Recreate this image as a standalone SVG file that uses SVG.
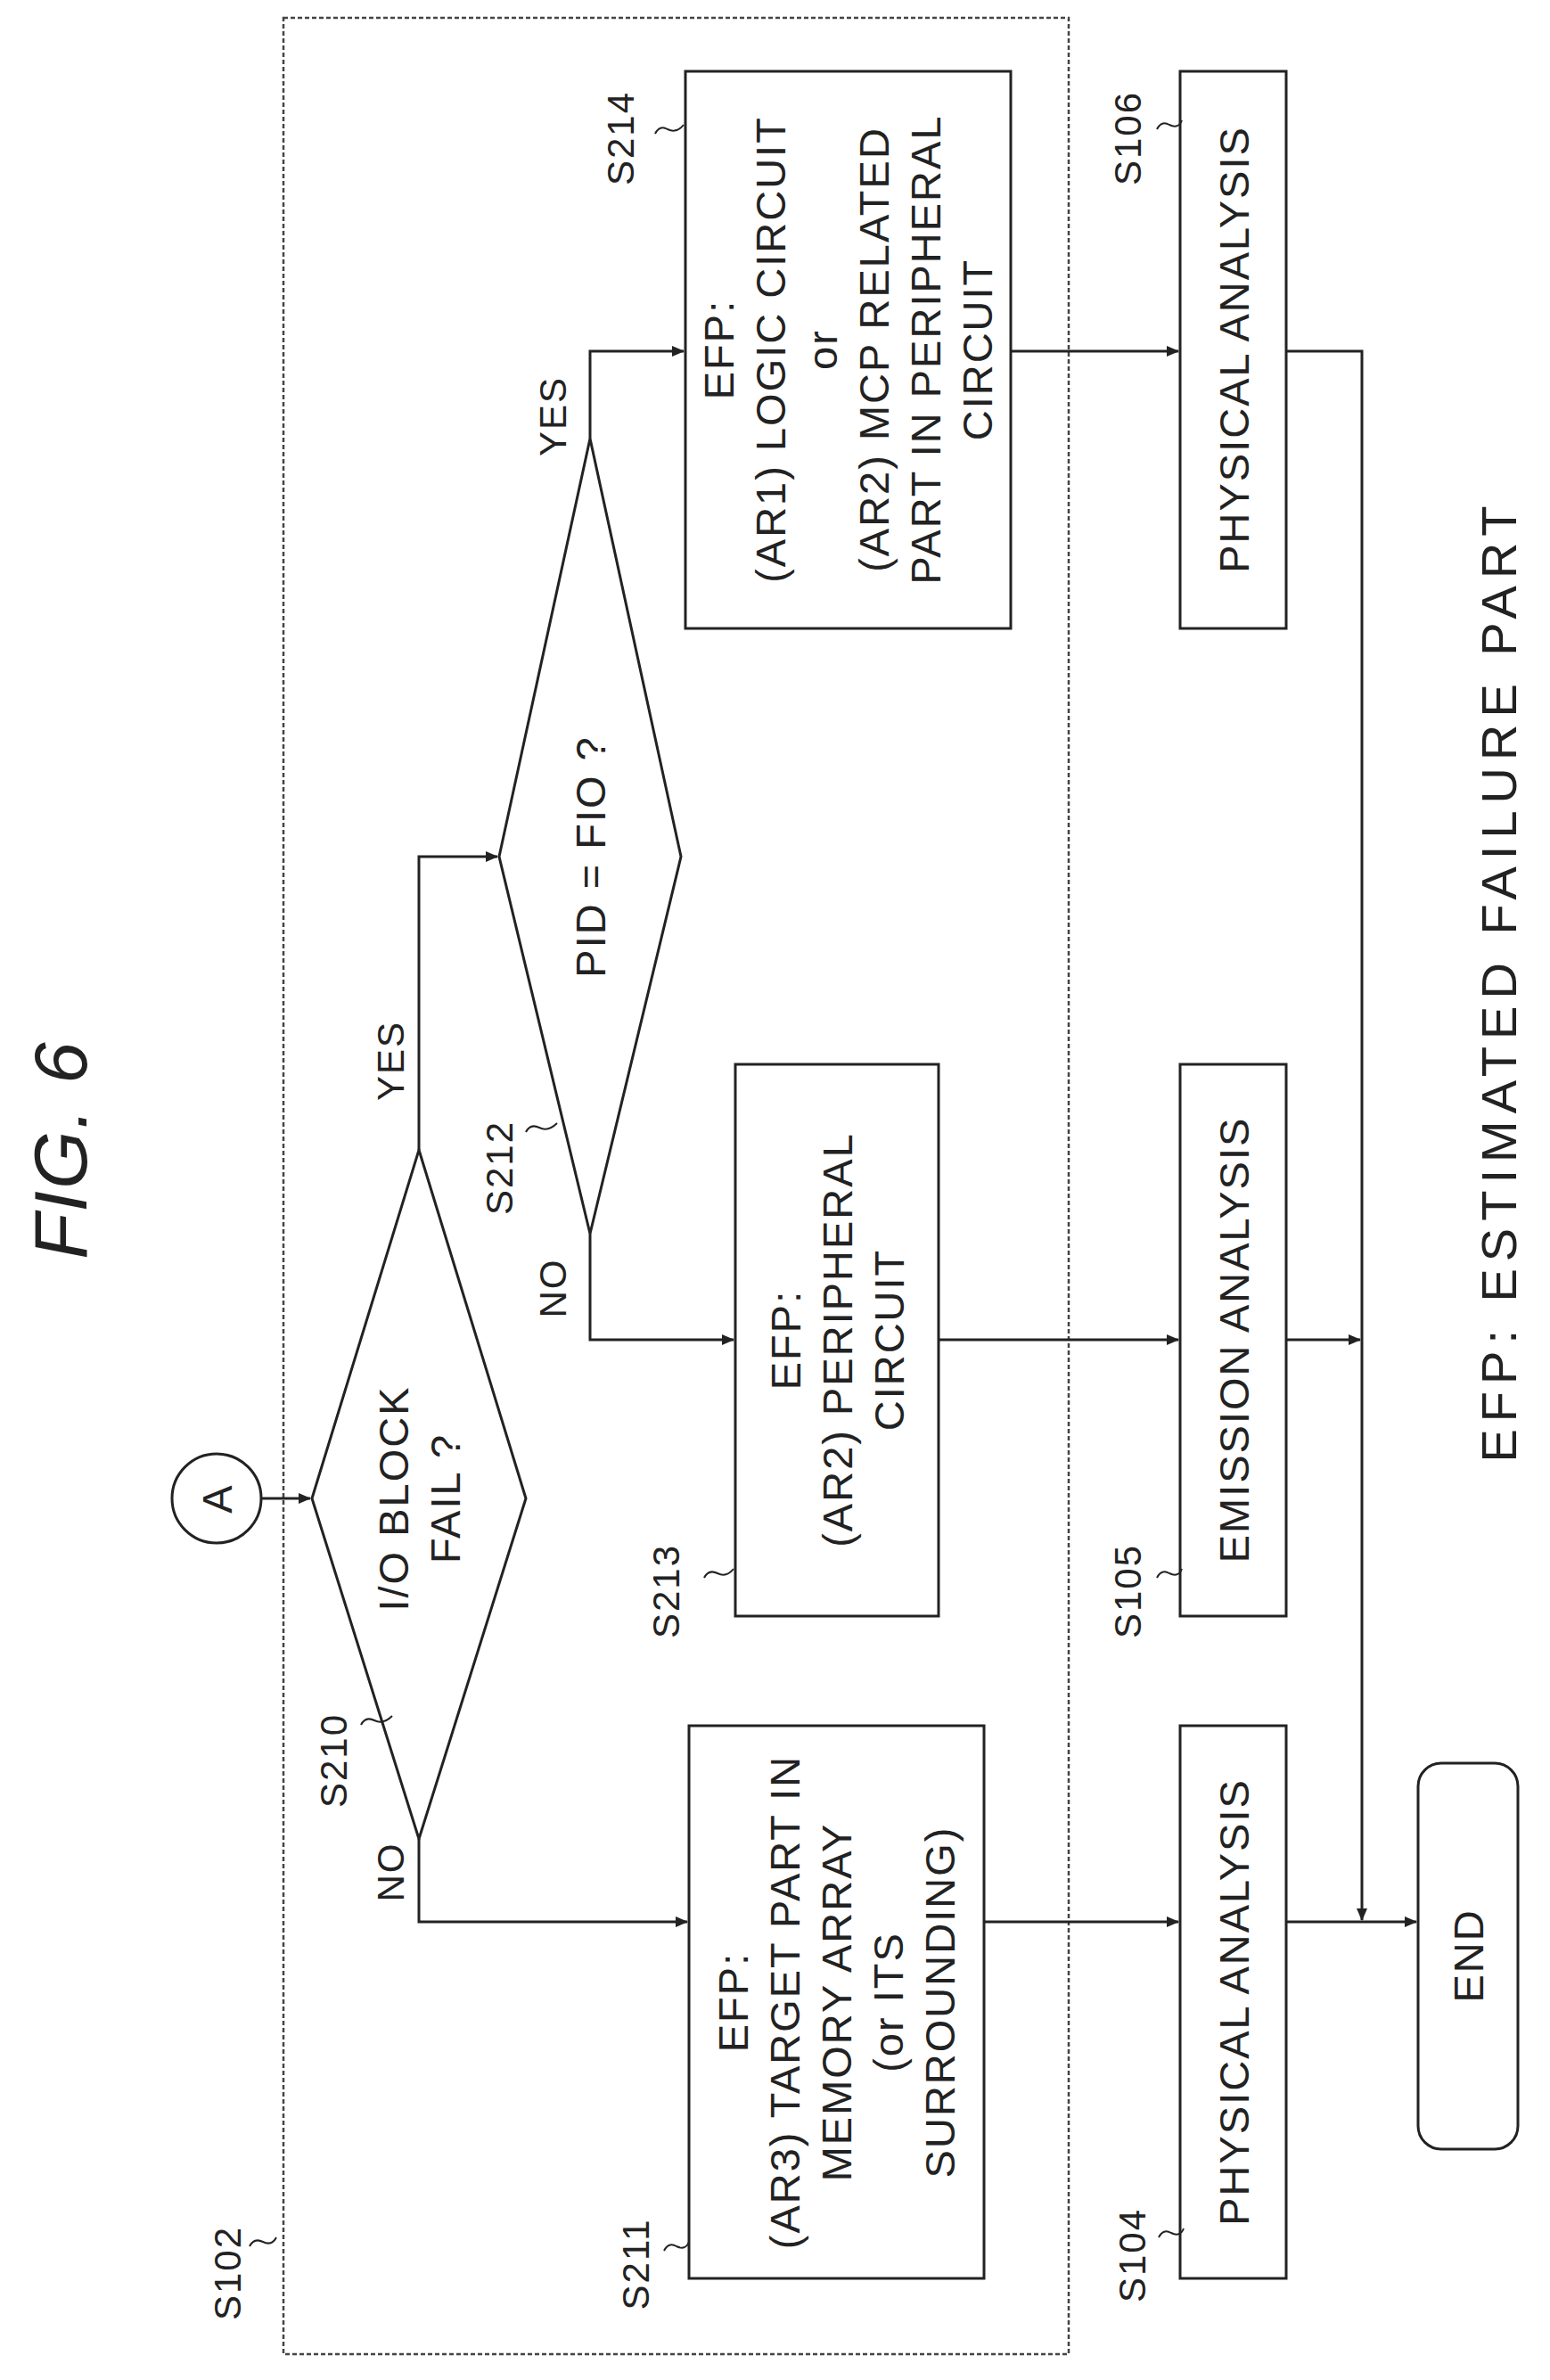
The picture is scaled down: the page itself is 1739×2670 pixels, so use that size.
<svg xmlns="http://www.w3.org/2000/svg" width="1739" height="2670" viewBox="0 0 1739 2670">
<style>
.s{fill:none;stroke:#222;stroke-width:3}
.d{fill:none;stroke:#444;stroke-width:2.5;stroke-dasharray:5 3}
.c{fill:none;stroke:#222;stroke-width:3}
.t{font-family:"Liberation Sans",Arial,sans-serif;font-size:47px;letter-spacing:2px;fill:#222;text-anchor:middle;dominant-baseline:central}
.l{font-family:"Liberation Sans",Arial,sans-serif;font-size:42px;letter-spacing:2px;fill:#222;text-anchor:middle;dominant-baseline:central}
.k{fill:none;stroke:#222;stroke-width:2}
</style>
<defs><marker id="a" markerWidth="14" markerHeight="12" refX="13" refY="6" orient="auto" markerUnits="userSpaceOnUse"><path d="M0,0 L14,6 L0,12 Z" fill="#222"/></marker></defs>
<rect fill="#fff" width="1739" height="2670"/>
<g id="title"><text class="t" style="font-size:84px;font-style:italic" transform="translate(68,1290) rotate(-90)">FIG. 6</text></g>
<g id="S102"><rect class="d" x="318" y="20" width="881" height="2621"/><text class="l" transform="translate(255,2550) rotate(-90)">S102</text><path class="k" d="M280,2520 q5,-10 15,-5 q10,5 15,-5"/></g>
<g id="A"><circle class="s" cx="243" cy="1681" r="50"/><text class="t" transform="translate(243,1681) rotate(-90)">A</text></g>
<g id="S210"><polygon class="s" points="470,1290 590,1681 470,2063 350,1681"/><text class="t" transform="translate(470,1681) rotate(-90)"><tspan x="0" dy="-29">I/O BLOCK</tspan><tspan x="0" dy="58">FAIL ?</tspan></text><text class="l" transform="translate(374,1975) rotate(-90)">S210</text><path class="k" d="M405,1935 q5,-10 15,-5 q10,5 20,-5"/></g>
<g id="S211"><rect class="s" x="773" y="1936" width="331" height="620"/><text class="t" transform="translate(938,2246) rotate(-90)"><tspan x="0" dy="-116">EFP:</tspan><tspan x="0" dy="58">(AR3) TARGET PART IN</tspan><tspan x="0" dy="58">MEMORY ARRAY</tspan><tspan x="0" dy="58">(or  ITS</tspan><tspan x="0" dy="58">SURROUNDING)</tspan></text><text class="l" transform="translate(713,2540) rotate(-90)">S211</text><path class="k" d="M745,2525 q5,-10 14,-5 q10,5 14,-5"/></g>
<g id="S212"><polygon class="s" points="662,492 764,961 662,1384 560,961"/><text class="t" transform="translate(662,961) rotate(-90)">PID = FIO ?</text><text class="l" transform="translate(560,1310) rotate(-90)">S212</text><path class="k" d="M590,1270 q5,-10 15,-5 q10,5 20,-5"/></g>
<g id="S213"><rect class="s" x="825" y="1194" width="228" height="619"/><text class="t" transform="translate(939,1503) rotate(-90)"><tspan x="0" dy="-58">EFP:</tspan><tspan x="0" dy="58">(AR2) PERIPHERAL</tspan><tspan x="0" dy="58">CIRCUIT</tspan></text><text class="l" transform="translate(747,1785) rotate(-90)">S213</text><path class="k" d="M790,1770 q5,-10 15,-5 q10,5 18,-5"/></g>
<g id="S214"><rect class="s" x="769" y="80" width="365" height="625"/><text class="t" transform="translate(951,392) rotate(-90)"><tspan x="0" dy="-145">EFP:</tspan><tspan x="0" dy="58">(AR1) LOGIC CIRCUIT</tspan><tspan x="0" dy="58">or</tspan><tspan x="0" dy="58">(AR2) MCP RELATED</tspan><tspan x="0" dy="58">PART IN PERIPHERAL</tspan><tspan x="0" dy="58">CIRCUIT</tspan></text><text class="l" transform="translate(696,155) rotate(-90)">S214</text><path class="k" d="M735,150 q5,-10 14,-5 q10,5 18,-5"/></g>
<g id="S104"><rect class="s" x="1324" y="1936" width="119" height="620"/><text class="t" transform="translate(1384,2246) rotate(-90)">PHYSICAL ANALYSIS</text><text class="l" transform="translate(1270,2530) rotate(-90)">S104</text><path class="k" d="M1300,2510 q5,-10 14,-5 q10,5 14,-5"/></g>
<g id="S105"><rect class="s" x="1324" y="1194" width="119" height="619"/><text class="t" transform="translate(1384,1503) rotate(-90)">EMISSION ANALYSIS</text><text class="l" transform="translate(1265,1785) rotate(-90)">S105</text><path class="k" d="M1298,1770 q5,-10 14,-5 q10,5 14,-5"/></g>
<g id="S106"><rect class="s" x="1324" y="80" width="119" height="625"/><text class="t" transform="translate(1384,392) rotate(-90)">PHYSICAL ANALYSIS</text><text class="l" transform="translate(1265,155) rotate(-90)">S106</text><path class="k" d="M1298,145 q5,-10 14,-5 q10,5 14,-5"/></g>
<g id="END"><rect class="s" x="1591" y="1978" width="112" height="433" rx="26"/><text class="t" transform="translate(1647,2194) rotate(-90)">END</text></g>
<g id="labels"><text class="l" transform="translate(438,1190) rotate(-90)">YES</text><text class="l" transform="translate(438,2100) rotate(-90)">NO</text><text class="l" transform="translate(620,467) rotate(-90)">YES</text><text class="l" transform="translate(620,1445) rotate(-90)">NO</text></g>
<g id="note"><text class="t" style="font-size:56px;letter-spacing:8px" transform="translate(1681,1100) rotate(-90)">EFP: ESTIMATED FAILURE PART</text></g>
<g id="connectors">
<path class="c" d="M293,1681 H348" marker-end="url(#a)"/>
<path class="c" d="M470,1290 V961 H558" marker-end="url(#a)"/>
<path class="c" d="M470,2063 V2156 H771" marker-end="url(#a)"/>
<path class="c" d="M662,492 V394 H767" marker-end="url(#a)"/>
<path class="c" d="M662,1384 V1503 H823" marker-end="url(#a)"/>
<path class="c" d="M1134,394 H1322" marker-end="url(#a)"/>
<path class="c" d="M1053,1503 H1322" marker-end="url(#a)"/>
<path class="c" d="M1104,2156 H1322" marker-end="url(#a)"/>
<path class="c" d="M1443,2156 H1589" marker-end="url(#a)"/>
<path class="c" d="M1443,394 H1528 V2154" marker-end="url(#a)"/>
<path class="c" d="M1443,1503 H1526" marker-end="url(#a)"/>
</g>
</svg>
